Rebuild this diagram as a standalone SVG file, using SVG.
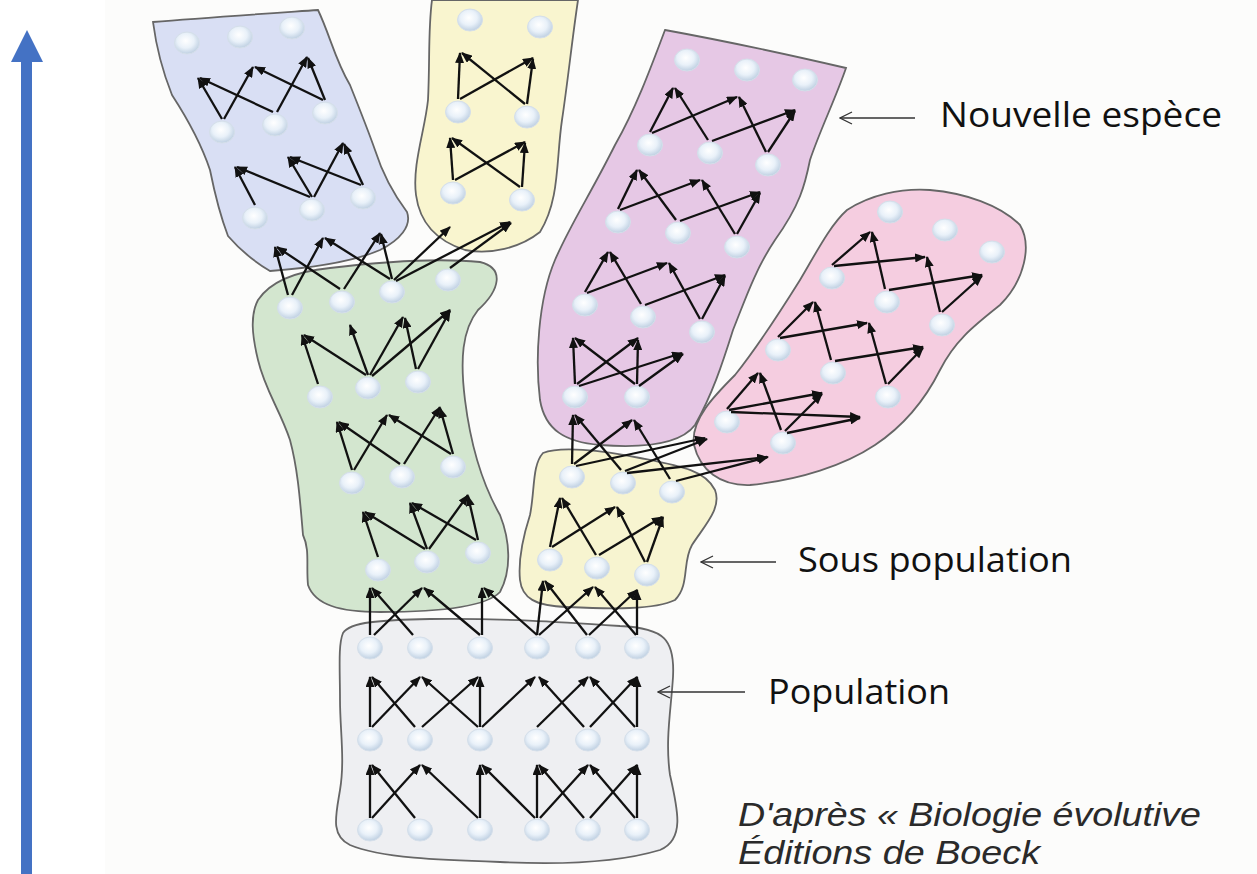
<svg xmlns="http://www.w3.org/2000/svg" width="1257" height="874" viewBox="0 0 1257 874">
<defs>
<radialGradient id="cg" cx="0.45" cy="0.4" r="0.6">
<stop offset="0" stop-color="#ffffff"/>
<stop offset="0.55" stop-color="#e9f1f9"/>
<stop offset="1" stop-color="#bfd0e2"/>
</radialGradient>
<marker id="ah" markerUnits="userSpaceOnUse" markerWidth="11" markerHeight="9" refX="10" refY="4.5" orient="auto">
<path d="M0,0 L11,4.5 L0,9 z" fill="#111"/>
</marker>
<marker id="oh" markerUnits="userSpaceOnUse" markerWidth="14" markerHeight="14" refX="1" refY="7" orient="auto">
<path d="M13,1 L1,7 L13,13" fill="none" stroke="#333" stroke-width="1.3"/>
</marker>
</defs>
<style>
.blob{stroke:#666;stroke-width:1.8}
.c{fill:url(#cg);stroke:#d5dfea;stroke-width:1}
.ar line{stroke:#111;stroke-width:2.3;marker-end:url(#ah)}
.lab{font-family:"Open Sans","Liberation Sans",sans-serif;font-size:35px;fill:#111}
.lp{stroke:#333;stroke-width:1.3;marker-start:url(#oh)}
.cite{font-family:"Liberation Sans",Arial,sans-serif;font-style:italic;font-size:33px;fill:#2a2a2a}
</style>
<rect x="0" y="0" width="1257" height="874" fill="#ffffff"/>
<rect x="105" y="0" width="1152" height="874" fill="#fcfcfb"/>

<g id="axis">
<rect x="21" y="60" width="11" height="814" fill="#4472c4"/>
<polygon points="11,62 27,30 43,62" fill="#4472c4"/>
</g>

<g id="population">
<path class="blob" fill="#eeeff2" d="M343,633 C350,622 380,620 430,619 C500,618 560,622 620,626 C665,628 675,640 673,677 C671,710 665,740 670,775 C678,810 685,840 660,850 C620,862 560,865 500,862 C440,860 380,858 350,845 C330,835 336,815 340,790 C345,760 340,730 340,700 C340,670 338,645 343,633 Z"/>
<g>
<ellipse class="c" cx="370" cy="648" rx="12.5" ry="11"/><ellipse class="c" cx="420" cy="648" rx="12.5" ry="11"/><ellipse class="c" cx="480" cy="648" rx="12.5" ry="11"/><ellipse class="c" cx="537" cy="648" rx="12.5" ry="11"/><ellipse class="c" cx="588" cy="648" rx="12.5" ry="11"/><ellipse class="c" cx="637" cy="648" rx="12.5" ry="11"/>
<ellipse class="c" cx="370" cy="740" rx="12.5" ry="11"/><ellipse class="c" cx="420" cy="740" rx="12.5" ry="11"/><ellipse class="c" cx="480" cy="740" rx="12.5" ry="11"/><ellipse class="c" cx="537" cy="740" rx="12.5" ry="11"/><ellipse class="c" cx="588" cy="740" rx="12.5" ry="11"/><ellipse class="c" cx="637" cy="740" rx="12.5" ry="11"/>
<ellipse class="c" cx="370" cy="830" rx="12.5" ry="11"/><ellipse class="c" cx="420" cy="830" rx="12.5" ry="11"/><ellipse class="c" cx="480" cy="830" rx="12.5" ry="11"/><ellipse class="c" cx="537" cy="830" rx="12.5" ry="11"/><ellipse class="c" cx="588" cy="830" rx="12.5" ry="11"/><ellipse class="c" cx="637" cy="830" rx="12.5" ry="11"/>
</g>
</g>

<g id="sous-population">
<path class="blob" fill="#f7f4d0" d="M543,453 C560,446 600,450 640,458 C680,466 705,470 715,490 C722,508 705,525 692,545 C682,562 690,585 675,600 C655,610 610,609 567,607 C535,606 522,598 520,580 C518,560 522,540 530,515 C535,490 532,465 543,453 Z"/>
<g>
<ellipse class="c" cx="572" cy="477" rx="12.5" ry="11"/><ellipse class="c" cx="623" cy="483" rx="12.5" ry="11"/><ellipse class="c" cx="672" cy="492" rx="12.5" ry="11"/>
<ellipse class="c" cx="550" cy="560" rx="12.5" ry="11"/><ellipse class="c" cx="597" cy="568" rx="12.5" ry="11"/><ellipse class="c" cx="647" cy="575" rx="12.5" ry="11"/>
</g>
</g>

<g id="espece-bleue">
<path class="blob" fill="#d9dff4" d="M153,22 C200,18 260,14 318,10 C330,35 335,60 350,85 C360,110 368,130 375,150 C382,172 392,192 407,212 C412,226 400,240 380,250 C350,263 310,268 270,271 C255,262 240,250 228,236 C220,215 215,195 210,170 C200,140 185,115 172,95 C162,70 156,45 153,22 Z"/>
<g>
<ellipse class="c" cx="187" cy="43" rx="12.5" ry="11"/><ellipse class="c" cx="240" cy="37" rx="12.5" ry="11"/><ellipse class="c" cx="292" cy="28" rx="12.5" ry="11"/>
<ellipse class="c" cx="222" cy="132" rx="12.5" ry="11"/><ellipse class="c" cx="275" cy="125" rx="12.5" ry="11"/><ellipse class="c" cx="325" cy="113" rx="12.5" ry="11"/>
<ellipse class="c" cx="255" cy="218" rx="12.5" ry="11"/><ellipse class="c" cx="312" cy="210" rx="12.5" ry="11"/><ellipse class="c" cx="363" cy="198" rx="12.5" ry="11"/>
</g>
</g>

<g id="espece-jaune">
<path class="blob" fill="#f9f5cf" d="M432,0 L578,0 C572,40 568,80 562,120 C556,160 560,200 540,232 C520,248 490,255 465,250 C440,242 420,225 416,195 C412,165 425,130 428,100 C430,60 428,30 432,0 Z"/>
<g>
<ellipse class="c" cx="470" cy="20" rx="12.5" ry="11"/><ellipse class="c" cx="540" cy="27" rx="12.5" ry="11"/>
<ellipse class="c" cx="458" cy="112" rx="12.5" ry="11"/><ellipse class="c" cx="527" cy="117" rx="12.5" ry="11"/>
<ellipse class="c" cx="453" cy="193" rx="12.5" ry="11"/><ellipse class="c" cx="522" cy="200" rx="12.5" ry="11"/>
</g>
</g>

<g id="espece-verte">
<path class="blob" fill="#d3e6cf" d="M258,300 C268,285 290,272 330,268 C380,262 440,258 480,262 C505,268 500,290 478,310 C462,330 460,360 465,400 C470,440 480,480 500,515 C510,540 512,570 500,592 C485,608 430,612 380,612 C340,612 315,605 308,585 C306,565 310,550 303,535 C300,500 298,470 290,440 C280,410 265,390 258,360 C252,335 250,315 258,300 Z"/>
<g>
<ellipse class="c" cx="290" cy="308" rx="12.5" ry="11"/><ellipse class="c" cx="342" cy="302" rx="12.5" ry="11"/><ellipse class="c" cx="392" cy="292" rx="12.5" ry="11"/><ellipse class="c" cx="448" cy="280" rx="12.5" ry="11"/>
<ellipse class="c" cx="320" cy="397" rx="12.5" ry="11"/><ellipse class="c" cx="368" cy="388" rx="12.5" ry="11"/><ellipse class="c" cx="418" cy="382" rx="12.5" ry="11"/>
<ellipse class="c" cx="352" cy="483" rx="12.5" ry="11"/><ellipse class="c" cx="402" cy="477" rx="12.5" ry="11"/><ellipse class="c" cx="453" cy="467" rx="12.5" ry="11"/>
<ellipse class="c" cx="378" cy="570" rx="12.5" ry="11"/><ellipse class="c" cx="427" cy="562" rx="12.5" ry="11"/><ellipse class="c" cx="478" cy="553" rx="12.5" ry="11"/>
</g>
</g>

<g id="nouvelle-espece">
<path class="blob" fill="#e6c8e5" d="M665,30 C720,40 790,55 846,68 C835,100 820,130 810,160 C805,185 800,205 775,240 C755,270 745,300 733,330 C722,365 712,395 695,425 C680,445 640,448 600,445 C565,442 545,430 540,400 C535,360 538,300 555,260 C570,225 590,195 615,145 C635,110 650,70 665,30 Z"/>
<g>
<ellipse class="c" cx="687" cy="60" rx="12.5" ry="11"/><ellipse class="c" cx="747" cy="70" rx="12.5" ry="11"/><ellipse class="c" cx="805" cy="80" rx="12.5" ry="11"/>
<ellipse class="c" cx="650" cy="145" rx="12.5" ry="11"/><ellipse class="c" cx="710" cy="153" rx="12.5" ry="11"/><ellipse class="c" cx="768" cy="165" rx="12.5" ry="11"/>
<ellipse class="c" cx="618" cy="222" rx="12.5" ry="11"/><ellipse class="c" cx="678" cy="233" rx="12.5" ry="11"/><ellipse class="c" cx="737" cy="247" rx="12.5" ry="11"/>
<ellipse class="c" cx="585" cy="305" rx="12.5" ry="11"/><ellipse class="c" cx="643" cy="317" rx="12.5" ry="11"/><ellipse class="c" cx="702" cy="332" rx="12.5" ry="11"/>
<ellipse class="c" cx="575" cy="397" rx="12.5" ry="11"/><ellipse class="c" cx="637" cy="397" rx="12.5" ry="11"/>
</g>
</g>

<g id="espece-rose">
<path class="blob" fill="#f5cde0" d="M847,210 C870,195 900,188 930,190 C965,193 1000,205 1020,225 C1032,245 1025,280 1000,305 C975,325 955,340 940,370 C925,400 905,425 875,445 C845,465 800,480 750,485 C720,486 700,470 694,445 C690,420 715,395 735,375 C755,350 775,320 800,280 C815,255 830,225 847,210 Z"/>
<g>
<ellipse class="c" cx="890" cy="212" rx="12.5" ry="11"/><ellipse class="c" cx="945" cy="230" rx="12.5" ry="11"/><ellipse class="c" cx="992" cy="252" rx="12.5" ry="11"/>
<ellipse class="c" cx="832" cy="278" rx="12.5" ry="11"/><ellipse class="c" cx="887" cy="302" rx="12.5" ry="11"/><ellipse class="c" cx="942" cy="325" rx="12.5" ry="11"/>
<ellipse class="c" cx="778" cy="350" rx="12.5" ry="11"/><ellipse class="c" cx="833" cy="373" rx="12.5" ry="11"/><ellipse class="c" cx="888" cy="397" rx="12.5" ry="11"/>
<ellipse class="c" cx="727" cy="422" rx="12.5" ry="11"/><ellipse class="c" cx="783" cy="443" rx="12.5" ry="11"/>
</g>
</g>

<g id="connectors" class="ar">
<line x1="370" y1="818" x2="370" y2="765"/><line x1="415" y1="818" x2="372" y2="765"/><line x1="372" y1="818" x2="420" y2="765"/><line x1="478" y1="818" x2="422" y2="765"/>
<line x1="480" y1="818" x2="480" y2="765"/><line x1="535" y1="818" x2="482" y2="765"/><line x1="537" y1="818" x2="537" y2="765"/><line x1="584" y1="818" x2="539" y2="765"/>
<line x1="540" y1="818" x2="588" y2="765"/><line x1="635" y1="818" x2="590" y2="765"/><line x1="590" y1="818" x2="637" y2="765"/><line x1="637" y1="818" x2="637" y2="765"/>
<line x1="370" y1="727" x2="370" y2="677"/><line x1="415" y1="727" x2="372" y2="677"/><line x1="372" y1="727" x2="420" y2="677"/><line x1="478" y1="727" x2="422" y2="677"/>
<line x1="422" y1="727" x2="478" y2="677"/><line x1="480" y1="727" x2="480" y2="677"/><line x1="482" y1="727" x2="535" y2="677"/><line x1="584" y1="727" x2="539" y2="677"/>
<line x1="537" y1="727" x2="588" y2="677"/><line x1="635" y1="727" x2="590" y2="677"/><line x1="590" y1="727" x2="637" y2="677"/><line x1="637" y1="727" x2="637" y2="677"/>
<line x1="370" y1="635" x2="370" y2="588"/><line x1="413" y1="635" x2="372" y2="588"/><line x1="374" y1="635" x2="422" y2="588"/><line x1="480" y1="635" x2="424" y2="588"/>
<line x1="482" y1="635" x2="482" y2="588"/><line x1="537" y1="635" x2="484" y2="588"/><line x1="537" y1="635" x2="543" y2="581"/><line x1="587" y1="635" x2="545" y2="581"/>
<line x1="539" y1="635" x2="593" y2="587"/><line x1="636" y1="635" x2="595" y2="587"/><line x1="589" y1="635" x2="637" y2="590"/><line x1="637" y1="635" x2="637" y2="590"/>
<line x1="550" y1="547" x2="560" y2="498"/><line x1="596" y1="555" x2="562" y2="498"/><line x1="552" y1="547" x2="615" y2="507"/><line x1="645" y1="562" x2="617" y2="507"/>
<line x1="599" y1="555" x2="662" y2="517"/><line x1="647" y1="562" x2="663" y2="517"/>
<line x1="572" y1="464" x2="573" y2="415"/><line x1="621" y1="470" x2="575" y2="415"/><line x1="574" y1="464" x2="632" y2="420"/><line x1="670" y1="479" x2="634" y2="420"/>
<line x1="576" y1="466" x2="705" y2="438"/><line x1="625" y1="471" x2="707" y2="439"/><line x1="627" y1="473" x2="767" y2="457"/><line x1="676" y1="481" x2="768" y2="457"/>
<line x1="575" y1="384" x2="573" y2="338"/><line x1="635" y1="384" x2="575" y2="338"/><line x1="577" y1="384" x2="638" y2="338"/><line x1="637" y1="384" x2="638" y2="340"/>
<line x1="579" y1="386" x2="682" y2="353"/><line x1="639" y1="386" x2="683" y2="354"/>
<line x1="585" y1="292" x2="608" y2="252"/><line x1="641" y1="304" x2="610" y2="252"/><line x1="587" y1="293" x2="667" y2="263"/><line x1="700" y1="319" x2="669" y2="263"/>
<line x1="645" y1="305" x2="725" y2="275"/><line x1="702" y1="319" x2="725" y2="276"/>
<line x1="618" y1="209" x2="637" y2="170"/><line x1="676" y1="220" x2="639" y2="170"/><line x1="620" y1="210" x2="700" y2="180"/><line x1="735" y1="234" x2="702" y2="180"/>
<line x1="680" y1="221" x2="760" y2="192"/><line x1="737" y1="234" x2="760" y2="193"/>
<line x1="650" y1="132" x2="673" y2="88"/><line x1="708" y1="140" x2="675" y2="88"/><line x1="652" y1="133" x2="737" y2="97"/><line x1="766" y1="152" x2="739" y2="97"/>
<line x1="712" y1="141" x2="795" y2="110"/><line x1="768" y1="152" x2="795" y2="111"/>
<line x1="727" y1="409" x2="758" y2="373"/><line x1="781" y1="430" x2="760" y2="373"/><line x1="729" y1="410" x2="822" y2="393"/><line x1="785" y1="431" x2="822" y2="394"/>
<line x1="731" y1="412" x2="860" y2="417"/><line x1="787" y1="433" x2="860" y2="418"/>
<line x1="778" y1="337" x2="813" y2="302"/><line x1="831" y1="360" x2="815" y2="302"/><line x1="780" y1="338" x2="867" y2="323"/><line x1="886" y1="384" x2="869" y2="323"/>
<line x1="835" y1="361" x2="923" y2="347"/><line x1="888" y1="384" x2="923" y2="348"/>
<line x1="832" y1="265" x2="870" y2="232"/><line x1="885" y1="289" x2="872" y2="232"/><line x1="834" y1="266" x2="925" y2="257"/><line x1="940" y1="312" x2="927" y2="257"/>
<line x1="889" y1="290" x2="982" y2="275"/><line x1="942" y1="312" x2="982" y2="276"/>
<line x1="378" y1="557" x2="363" y2="512"/><line x1="425" y1="549" x2="365" y2="512"/><line x1="427" y1="549" x2="410" y2="503"/><line x1="429" y1="549" x2="468" y2="495"/>
<line x1="476" y1="540" x2="412" y2="503"/><line x1="478" y1="540" x2="468" y2="496"/>
<line x1="352" y1="470" x2="337" y2="422"/><line x1="400" y1="464" x2="339" y2="422"/><line x1="354" y1="470" x2="387" y2="415"/><line x1="451" y1="454" x2="389" y2="415"/>
<line x1="404" y1="464" x2="440" y2="407"/><line x1="453" y1="454" x2="440" y2="408"/>
<line x1="318" y1="384" x2="302" y2="335"/><line x1="366" y1="375" x2="304" y2="335"/><line x1="368" y1="375" x2="350" y2="325"/><line x1="370" y1="375" x2="403" y2="317"/>
<line x1="416" y1="369" x2="405" y2="318"/><line x1="372" y1="376" x2="450" y2="310"/><line x1="418" y1="369" x2="450" y2="311"/>
<line x1="288" y1="295" x2="275" y2="247"/><line x1="340" y1="289" x2="277" y2="247"/><line x1="292" y1="295" x2="323" y2="238"/><line x1="390" y1="279" x2="325" y2="238"/>
<line x1="344" y1="289" x2="380" y2="233"/><line x1="392" y1="279" x2="381" y2="234"/><line x1="394" y1="280" x2="450" y2="227"/><line x1="396" y1="281" x2="510" y2="222"/>
<line x1="450" y1="268" x2="511" y2="223"/>
<line x1="255" y1="205" x2="235" y2="167"/><line x1="310" y1="197" x2="237" y2="167"/><line x1="312" y1="197" x2="288" y2="157"/><line x1="361" y1="185" x2="290" y2="157"/>
<line x1="314" y1="197" x2="343" y2="143"/><line x1="363" y1="185" x2="344" y2="144"/>
<line x1="222" y1="119" x2="198" y2="78"/><line x1="273" y1="112" x2="200" y2="78"/><line x1="224" y1="119" x2="253" y2="67"/><line x1="323" y1="100" x2="255" y2="67"/>
<line x1="277" y1="112" x2="307" y2="57"/><line x1="325" y1="100" x2="308" y2="58"/>
<line x1="453" y1="180" x2="450" y2="138"/><line x1="520" y1="187" x2="452" y2="138"/><line x1="455" y1="180" x2="525" y2="142"/><line x1="522" y1="187" x2="525" y2="143"/>
<line x1="458" y1="99" x2="460" y2="53"/><line x1="525" y1="104" x2="462" y2="53"/><line x1="460" y1="99" x2="533" y2="58"/><line x1="527" y1="104" x2="533" y2="59"/>
</g>

<g id="labels">
<line class="lp" x1="840" y1="118" x2="915" y2="118"/>
<text class="lab" x="940" y="127" textLength="282" lengthAdjust="spacingAndGlyphs">Nouvelle espèce</text>
<line class="lp" x1="701" y1="562" x2="776" y2="562"/>
<text class="lab" x="798" y="572" textLength="274" lengthAdjust="spacingAndGlyphs">Sous population</text>
<line class="lp" x1="658" y1="692" x2="745" y2="692"/>
<text class="lab" x="768" y="704" textLength="182" lengthAdjust="spacingAndGlyphs">Population</text>
<text class="cite" x="738" y="826" textLength="463" lengthAdjust="spacingAndGlyphs">D'après « Biologie évolutive</text>
<text class="cite" x="738" y="864" textLength="302" lengthAdjust="spacingAndGlyphs">Éditions de Boeck</text>
</g>
</svg>
